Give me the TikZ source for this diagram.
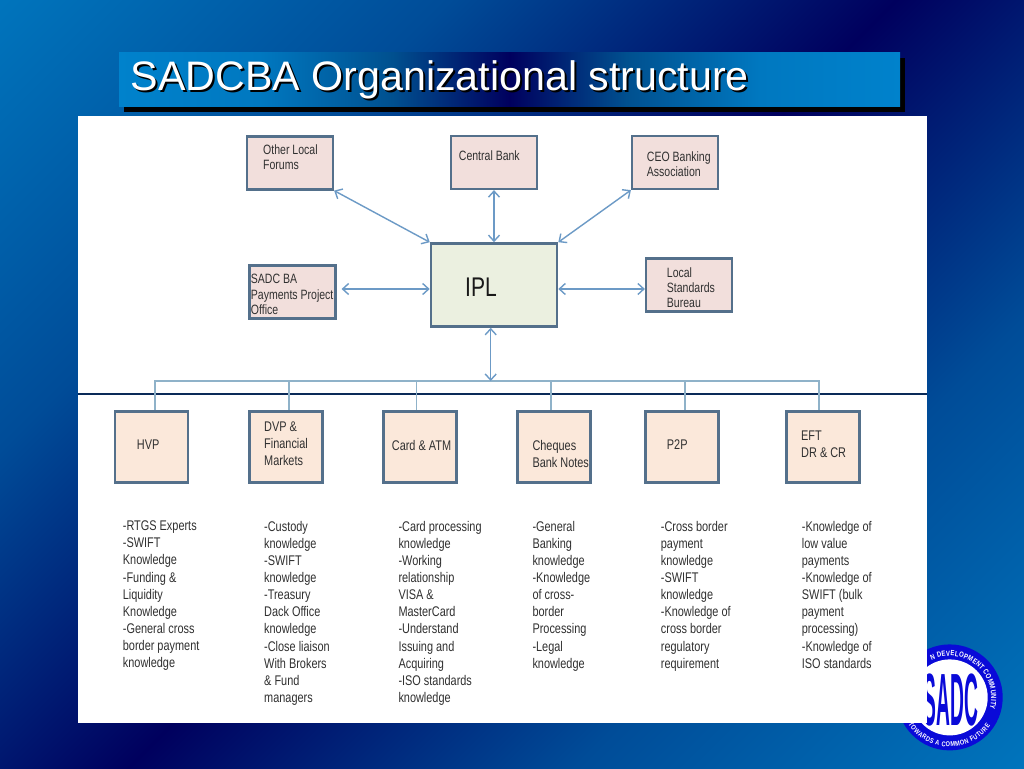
\documentclass[tikz,border=0pt]{standalone}
\usepackage{fontspec}
\setmainfont{Liberation Sans}
\newfontfamily\narrowfont[FakeStretch=0.78]{Liberation Sans}
\newfontfamily\logofont[FakeStretch=0.26]{Liberation Sans Bold}
\newfontfamily\ringfont[FakeStretch=0.8]{Liberation Sans Bold}
\usetikzlibrary{arrows.meta,positioning,calc,decorations.text}
\definecolor{slidelight}{HTML}{0074BC}
\definecolor{slidemid}{HTML}{004C98}
\definecolor{slidedark}{HTML}{00005E}
\definecolor{barlight}{HTML}{0082CC}
\definecolor{barsoft}{HTML}{0078C0}
\definecolor{barmid}{HTML}{00508F}
\definecolor{boxedge}{HTML}{54708B}
\definecolor{arrowblue}{HTML}{6C9AC6}
\definecolor{treeblue}{HTML}{8FB2C9}
\definecolor{rulenavy}{HTML}{0A2A58}
\definecolor{pinkfill}{HTML}{F2DFDC}
\definecolor{greenfill}{HTML}{EBF0E0}
\definecolor{peachfill}{HTML}{FBE8DA}
\definecolor{inktext}{HTML}{303030}
\definecolor{logoblue}{HTML}{0A0AD8}
\pgfdeclareverticalshading{slideback}{100bp}{color(0bp)=(slidelight); color(14.6bp)=(slidelight); color(32.3bp)=(slidemid); color(50bp)=(slidedark); color(67.7bp)=(slidemid); color(85.4bp)=(slidelight); color(100bp)=(slidelight)}
\pgfdeclarehorizontalshading{titleback}{100bp}{color(0bp)=(barlight); color(25bp)=(barlight); color(34bp)=(barsoft); color(42.5bp)=(barmid); color(50bp)=(slidedark); color(57.5bp)=(barmid); color(66bp)=(barsoft); color(75bp)=(barlight); color(100bp)=(barlight)}
\newcommand{\titleshadow}[1]{\makebox[0pt][l]{\kern2pt\raisebox{-2pt}{\color{black}#1}}#1}
\tikzset{
  topbox/.style={draw=boxedge, line width=2.2pt, fill=pinkfill, minimum width=86pt, minimum height=53pt, inner sep=0pt},
  lowbox/.style={draw=boxedge, line width=2.6pt, fill=peachfill, minimum width=73pt, minimum height=71pt, inner sep=0pt},
  toplabel/.style={anchor=north west, inner sep=0pt, align=left, text=inktext, font=\narrowfont\fontsize{13.5}{15.2}\selectfont},
  lowlabel/.style={anchor=north west, inner sep=0pt, align=left, text=inktext, font=\narrowfont\fontsize{14}{17.15}\selectfont},
  twoway/.style={draw=arrowblue, line width=1.4pt, {Straight Barb[length=6pt,width=11pt]}-{Straight Barb[length=6pt,width=11pt]}}
}
\begin{document}
\begin{tikzpicture}[x=1pt,y=-1pt]
\useasboundingbox (0,0) rectangle (1024,768);
\shade[shading=slideback, shading angle=45] (0,0) rectangle (1024,768);

\fill[black] (124,58) rectangle (905,112);
\shade[shading=titleback] (119,53) rectangle (900,106);
\node[anchor=west, inner sep=0pt, text=white, font=\fontsize{41.2}{44}\selectfont] (title) at (130.5,81) {\titleshadow{SADCBA Organizational structure}};

\fill[logoblue] (949.7,697.4) circle (53);
\fill[white] (949.7,697.4) circle (38);
\node[text=logoblue, inner sep=0pt, font=\logofont\fontsize{74}{74}\selectfont] (sadclogo) at (951,700) {SADC};
\begin{scope}[shift={(949.7,697.4)},x=1pt,y=1pt]
\path[decorate, decoration={text along path, text align=fit to path, text={|\ringfont\fontsize{7.5}{8}\selectfont\color{white}|N DEVELOPMENT COMMUNITY}}] (116:41.5) arc[start angle=116, end angle=-16, radius=41.5];
\path[decorate, decoration={text along path, text align=fit to path, text={|\ringfont\fontsize{7}{8}\selectfont\color{white}|TOWARDS A COMMON FUTURE}}] (213:49.5) arc[start angle=213, end angle=325, radius=49.5];
\end{scope}

\fill[white] (78,116) rectangle (927,723);
\draw[rulenavy, line width=1.2pt] (78,394) -- (927,394);

\node[topbox] (forums) at (290,163) {};
\node[topbox] (central) at (494,162.5) {};
\node[topbox] (ceo) at (675,162.5) {};
\node[topbox] (project) at (292.5,292) {};
\node[topbox] (bureau) at (689,285) {};
\node[draw=boxedge, line width=2.6pt, fill=greenfill, minimum width=126pt, minimum height=83pt, inner sep=0pt] (ipl) at (494,285) {};

\node[toplabel] (forumstext) at (263,144.3) {Other Local\\Forums};
\node[toplabel] (centraltext) at (458.7,151) {Central Bank};
\node[toplabel] (ceotext) at (646.7,151.3) {CEO Banking\\Association};
\node[toplabel] (projecttext) at (250.7,274.3) {SADC BA\\Payments Project\\Office};
\node[toplabel] (bureautext) at (666.7,267.6) {Local\\Standards\\Bureau};
\node[anchor=center, inner sep=0pt, text=black!90, font=\narrowfont\fontsize{27}{30}\selectfont] (ipltext) at (481,287) {IPL};

\draw[twoway] (forums.south east) -- (ipl.north west);
\draw[twoway] (central) -- (ipl);
\draw[twoway] (ceo.south west) -- (ipl.north east);
\draw[twoway] ([xshift=5pt,yshift=3pt]project.east) -- ([yshift=-4pt]ipl.west);
\draw[twoway] ([yshift=-4pt]ipl.east) -- ([yshift=-4pt]bureau.west);

\node[lowbox] (hvp) at (151.5,446.7) {};
\node[lowbox] (dvp) at (285.7,446.7) {};
\node[lowbox] (card) at (420,446.7) {};
\node[lowbox] (cheques) at (554.2,446.7) {};
\node[lowbox] (ptwop) at (681.8,446.7) {};
\node[lowbox] (eft) at (823.2,446.7) {};

\coordinate (bus) at (490.7,381);
\foreach \boxname/\offset in {hvp/3.5,dvp/3.3,card/-3.3,cheques/-3.2,ptwop/3.2,eft/-4.2}
  \draw[treeblue, line width=1.2pt] ([xshift=\offset pt]\boxname.north) |- (bus);
\draw[twoway] ([xshift=-3.3pt]ipl.south) -- (bus);

\node[lowlabel] (hvptext) at (136.7,440) {HVP};
\node[lowlabel] (dvptext) at (264,421.7) {DVP \&\\Financial\\Markets};
\node[lowlabel] (cardtext) at (391.7,439.7) {Card \& ATM};
\node[lowlabel] (chequestext) at (532.3,439.7) {Cheques\\Bank Notes};
\node[lowlabel] (ptwoptext) at (666.7,439.3) {P2P};
\node[lowlabel] (efttext) at (801,430.7) {EFT\\DR \& CR};

\node[lowlabel] (hvplist) at (122.7,520.7) {-RTGS Experts\\-SWIFT\\Knowledge\\-Funding \&\\Liquidity\\Knowledge\\-General cross\\border payment\\knowledge};
\node[lowlabel] (dvplist) at (264,520.7) {-Custody\\knowledge\\-SWIFT\\knowledge\\-Treasury\\Dack Office\\knowledge\\-Close liaison\\With Brokers\\\& Fund\\managers};
\node[lowlabel] (cardlist) at (398.3,520.7) {-Card processing\\knowledge\\-Working\\relationship\\VISA \&\\MasterCard\\-Understand\\Issuing and\\Acquiring\\-ISO standards\\knowledge};
\node[lowlabel] (chequeslist) at (532.3,520.7) {-General\\Banking\\knowledge\\-Knowledge\\of cross-\\border\\Processing\\-Legal\\knowledge};
\node[lowlabel] (ptwoplist) at (660.7,520.7) {-Cross border\\payment\\knowledge\\-SWIFT\\knowledge\\-Knowledge of\\cross border\\regulatory\\requirement};
\node[lowlabel] (eftlist) at (801.7,520.7) {-Knowledge of\\low value\\payments\\-Knowledge of\\SWIFT (bulk\\payment\\processing)\\-Knowledge of\\ISO standards};
\end{tikzpicture}
\end{document}
